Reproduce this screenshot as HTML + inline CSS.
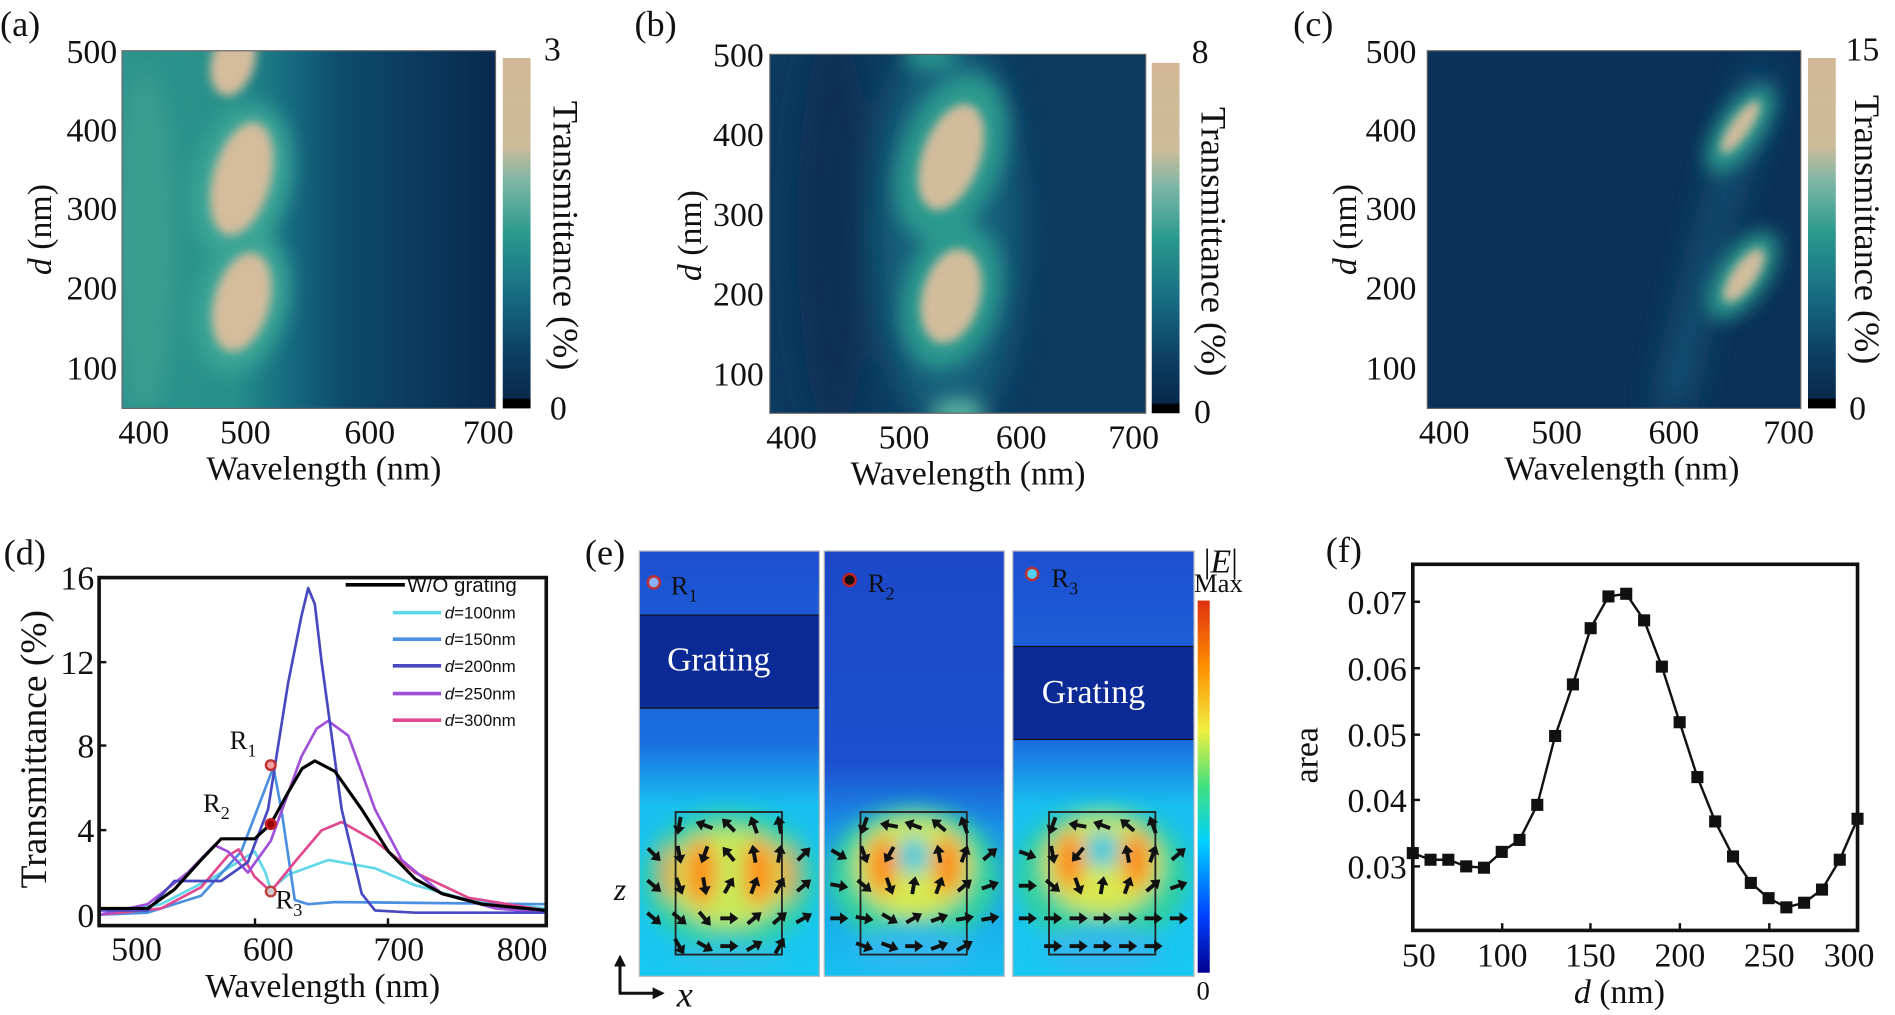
<!DOCTYPE html>
<html><head><meta charset="utf-8">
<style>
html,body{margin:0;padding:0;background:#fff;}
svg{display:block;}
text{font-family:"Liberation Serif",serif;fill:#111;}
text.w{fill:#fff;}
.s{font-family:"Liberation Sans",sans-serif;}
</style></head>
<body>
<svg width="1895" height="1015" viewBox="0 0 1568 840" preserveAspectRatio="none" xmlns="http://www.w3.org/2000/svg" xmlns:xlink="http://www.w3.org/1999/xlink">
<defs>
<filter id="b8" x="-50%" y="-50%" width="200%" height="200%"><feGaussianBlur stdDeviation="8"/></filter>
<filter id="b4" x="-50%" y="-50%" width="200%" height="200%"><feGaussianBlur stdDeviation="4"/></filter>
<filter id="b14" x="-50%" y="-50%" width="200%" height="200%"><feGaussianBlur stdDeviation="14"/></filter>
<linearGradient id="cb" x1="0" y1="0" x2="0" y2="1">
<stop offset="0" stop-color="#d2b896"/><stop offset="0.25" stop-color="#cdbb9a"/><stop offset="0.35" stop-color="#7fb7a6"/><stop offset="0.5" stop-color="#2a9a8e"/><stop offset="0.7" stop-color="#156680"/><stop offset="0.85" stop-color="#0c3d62"/><stop offset="0.97" stop-color="#082a4c"/><stop offset="0.975" stop-color="#000"/><stop offset="1" stop-color="#000"/>
</linearGradient>
<linearGradient id="bga" x1="0" y1="0" x2="1" y2="0">
<stop offset="0" stop-color="#2e948d"/><stop offset="0.3" stop-color="#27908a"/><stop offset="0.45" stop-color="#156a80"/><stop offset="0.6" stop-color="#0d4a6c"/><stop offset="1" stop-color="#08294f"/>
</linearGradient>
<linearGradient id="jet" x1="0" y1="1" x2="0" y2="0">
<stop offset="0" stop-color="#00008f"/><stop offset="0.15" stop-color="#0040ff"/><stop offset="0.35" stop-color="#00d0ff"/><stop offset="0.5" stop-color="#40e080"/><stop offset="0.65" stop-color="#f0f040"/><stop offset="0.82" stop-color="#ff9000"/><stop offset="1" stop-color="#e03010"/>
</linearGradient>
<linearGradient id="ebg" x1="0" y1="0" x2="0" y2="1">
<stop offset="0" stop-color="#1d4fd0"/><stop offset="0.45" stop-color="#1a6ee0"/><stop offset="0.6" stop-color="#18c0f0"/><stop offset="1" stop-color="#18c8f0"/>
</linearGradient>
<linearGradient id="ebg2" x1="0" y1="0" x2="0" y2="1">
<stop offset="0" stop-color="#1c48c8"/><stop offset="0.5" stop-color="#1c50d0"/><stop offset="0.65" stop-color="#1a90e8"/><stop offset="1" stop-color="#18c0f0"/>
</linearGradient>
<clipPath id="ca"><rect x="101" y="42" width="309" height="296"/></clipPath>
<clipPath id="cbp"><rect x="637" y="45" width="311" height="297"/></clipPath>
<clipPath id="cc"><rect x="1181" y="42" width="309" height="296"/></clipPath>
<clipPath id="ce1"><rect x="529" y="456" width="149" height="352"/></clipPath>
<clipPath id="ce2"><rect x="682" y="456" width="149" height="352"/></clipPath>
<clipPath id="ce3"><rect x="838" y="456" width="150" height="352"/></clipPath>
<marker id="ah" markerWidth="4" markerHeight="4" refX="2" refY="2" orient="auto"><path d="M0,0 L4,2 L0,4 z" fill="#111"/></marker>
<g id="ar"><line x1="-7" y1="0" x2="2" y2="0" stroke="#111" stroke-width="3.2"/><path d="M1,-5 L8,0 L1,5 z" fill="#111"/></g>
</defs>

<!-- (a) -->
<g clip-path="url(#ca)">
<rect x="101" y="42" width="309" height="296" fill="url(#bga)"/>
<g filter="url(#b8)">
<ellipse cx="200" cy="150" rx="40" ry="65" fill="#3aa596" transform="rotate(15 200 150)"/>
<ellipse cx="200" cy="250" rx="38" ry="60" fill="#3aa596" transform="rotate(15 200 250)"/>
<ellipse cx="120" cy="200" rx="25" ry="140" fill="#3a9c90"/>
</g>
<g filter="url(#b4)">
<ellipse cx="200" cy="148" rx="24" ry="48" fill="#d4bc9c" transform="rotate(15 200 148)"/>
<ellipse cx="200" cy="250" rx="23" ry="42" fill="#d4bc9c" transform="rotate(15 200 250)"/>
<ellipse cx="193" cy="50" rx="18" ry="30" fill="#d4bc9c" transform="rotate(15 193 50)"/>
</g>
</g>
<rect x="101" y="42" width="309" height="296" fill="none" stroke="#666" stroke-width="1"/>
<rect x="416" y="48" width="23" height="290" fill="url(#cb)"/>
<text x="0" y="30" font-size="30">(a)</text>
<g font-size="28" text-anchor="end">
<text x="97" y="52">500</text><text x="97" y="117">400</text><text x="97" y="182">300</text><text x="97" y="248">200</text><text x="97" y="314">100</text>
</g>
<g font-size="28" text-anchor="middle">
<text x="119" y="367">400</text><text x="203" y="367">500</text><text x="306" y="367">600</text><text x="404" y="367">700</text>
<text x="268" y="397">Wavelength (nm)</text>
</g>
<text x="450" y="50" font-size="28">3</text><text x="455" y="347" font-size="28">0</text>
<text transform="translate(458,195) rotate(90)" font-size="30" text-anchor="middle">Transmittance (%)</text>
<text transform="translate(42,190) rotate(-90)" font-size="28" text-anchor="middle"><tspan font-style="italic">d</tspan> (nm)</text>

<!-- (b) -->
<g clip-path="url(#cbp)">
<rect x="637" y="45" width="311" height="297" fill="#0c3a60"/>
<g filter="url(#b14)">
<ellipse cx="785" cy="190" rx="60" ry="170" fill="#13607c"/>
<ellipse cx="690" cy="190" rx="30" ry="170" fill="#0a2e54"/>
</g>
<g filter="url(#b8)">
<ellipse cx="787" cy="130" rx="42" ry="72" fill="#2a9a8e" transform="rotate(20 787 130)"/>
<ellipse cx="787" cy="245" rx="40" ry="62" fill="#2a9a8e" transform="rotate(15 787 245)"/>
<ellipse cx="770" cy="47" rx="22" ry="10" fill="#2a9a8e"/>
<ellipse cx="793" cy="342" rx="22" ry="12" fill="#5ab4a0"/>
</g>
<g filter="url(#b4)">
<ellipse cx="787" cy="130" rx="24" ry="46" fill="#d2bc9c" transform="rotate(20 787 130)"/>
<ellipse cx="787" cy="245" rx="24" ry="40" fill="#d2bc9c" transform="rotate(15 787 245)"/>
</g>
</g>
<rect x="637" y="45" width="311" height="297" fill="none" stroke="#666" stroke-width="1"/>
<rect x="953" y="52" width="23" height="290" fill="url(#cb)"/>
<text x="525" y="30" font-size="30">(b)</text>
<g font-size="28" text-anchor="end">
<text x="632" y="55">500</text><text x="632" y="121">400</text><text x="632" y="187">300</text><text x="632" y="253">200</text><text x="632" y="319">100</text>
</g>
<g font-size="28" text-anchor="middle">
<text x="655" y="371">400</text><text x="748" y="371">500</text><text x="845" y="371">600</text><text x="938" y="371">700</text>
<text x="801" y="401">Wavelength (nm)</text>
</g>
<text x="986" y="52" font-size="28">8</text><text x="988" y="350" font-size="28">0</text>
<text transform="translate(994,200) rotate(90)" font-size="30" text-anchor="middle">Transmittance (%)</text>
<text transform="translate(580,195) rotate(-90)" font-size="28" text-anchor="middle"><tspan font-style="italic">d</tspan> (nm)</text>

<!-- (c) -->
<g clip-path="url(#cc)">
<rect x="1181" y="42" width="309" height="296" fill="#0a3158"/>
<g filter="url(#b14)">
<path d="M1370,338 L1405,200 L1445,60 L1470,60 L1425,200 L1395,338 z" fill="#13587a"/>
</g>
<g filter="url(#b8)">
<ellipse cx="1440" cy="107" rx="18" ry="42" fill="#2a9a8e" transform="rotate(35 1440 107)"/>
<ellipse cx="1442" cy="228" rx="20" ry="42" fill="#2a9a8e" transform="rotate(35 1442 228)"/>
</g>
<g filter="url(#b4)">
<ellipse cx="1440" cy="105" rx="8" ry="26" fill="#d2bc9c" transform="rotate(35 1440 105)"/>
<ellipse cx="1443" cy="228" rx="10" ry="26" fill="#d2bc9c" transform="rotate(35 1443 228)"/>
</g>
</g>
<rect x="1181" y="42" width="309" height="296" fill="none" stroke="#666" stroke-width="1"/>
<rect x="1496" y="48" width="23" height="290" fill="url(#cb)"/>
<text x="1070" y="30" font-size="30">(c)</text>
<g font-size="28" text-anchor="end">
<text x="1172" y="52">500</text><text x="1172" y="117">400</text><text x="1172" y="182">300</text><text x="1172" y="248">200</text><text x="1172" y="314">100</text>
</g>
<g font-size="28" text-anchor="middle">
<text x="1195" y="367">400</text><text x="1288" y="367">500</text><text x="1385" y="367">600</text><text x="1480" y="367">700</text>
<text x="1342" y="397">Wavelength (nm)</text>
</g>
<text x="1527" y="50" font-size="28">15</text><text x="1530" y="347" font-size="28">0</text>
<text transform="translate(1535,190) rotate(90)" font-size="30" text-anchor="middle">Transmittance (%)</text>
<text transform="translate(1122,190) rotate(-90)" font-size="28" text-anchor="middle"><tspan font-style="italic">d</tspan> (nm)</text>

<!-- (d) -->
<text x="3" y="467" font-size="30">(d)</text>
<g fill="none" stroke-width="2.2" stroke-linejoin="round" stroke-linecap="round">
<polyline stroke="#60d8e8" points="82.3,757 133.2,748.3 177.5,725.6 210.7,704.7 219.6,722.1 224,736.1 238.4,723.9 271.6,711.7 310.3,718.6 343.5,732.6 387.8,744.8 452,751.8"/>
<polyline stroke="#4a90e0" points="82.3,757 122.1,755.3 166.4,741.3 199.6,704.7 216.2,661.1 226.2,634.9 232.8,669.8 243.9,744.8 255,748.3 277.1,746.5 452,748.3"/>
<polyline stroke="#e04890" points="82.3,757 133.2,751.8 166.4,734.3 188.6,708.2 197.4,702.9 210.7,725.6 224,737.8 243.9,713.4 266.1,687.2 282.7,680.3 310.3,696 343.5,722.1 387.8,743 452,753.5"/>
<polyline stroke="#a050d8" points="82.3,757 122.1,748.3 155.4,722.1 177.5,699.4 188.6,704.7 205.2,722.1 224,696 249.4,626.2 262,603 271.6,596.6 288.2,608.8 310.3,669.8 332.5,711.7 365.7,739.6 410,751.8 452,755.3"/>
<polyline stroke="#4848c0" points="82.3,753.5 122.1,753.5 133.2,741.3 144.3,729.1 183,729.1 205.2,713.4 221.8,669.8 238.4,565.2 249.4,510 255,486.7 260.5,500 266.1,547.7 282.7,669.8 299.3,739.6 310.3,753.5 343.5,755.3 452,755.3"/>
<polyline stroke="#000" stroke-width="2.6" points="82.3,751.8 122.1,751.8 144.3,736.1 166.4,711.7 183,694.2 199.6,694.2 210.7,694.2 224,682 238.4,655.8 250,636 260.5,629.7 277.1,638.4 299.3,669.8 321.4,704.7 343.5,727.4 365.7,739.6 398.9,748.3 452,753.5"/>
</g>
<circle cx="224" cy="633.2" r="4" fill="#f0a0a0" stroke="#c03030" stroke-width="2"/>
<circle cx="224" cy="682" r="4" fill="#900" stroke="#c02020" stroke-width="2"/>
<circle cx="224" cy="737.8" r="4" fill="#ccc" stroke="#c04040" stroke-width="2"/>
<rect x="82" y="478" width="370" height="288" fill="none" stroke="#111" stroke-width="3"/>
<g stroke="#111" stroke-width="2">
<line x1="82" y1="548" x2="88" y2="548"/><line x1="82" y1="617" x2="88" y2="617"/><line x1="82" y1="687" x2="88" y2="687"/>
<line x1="211" y1="766" x2="211" y2="760"/><line x1="321" y1="766" x2="321" y2="760"/>
</g>
<g font-size="28" text-anchor="end">
<text x="78" y="488">16</text><text x="78" y="558">12</text><text x="78" y="627">8</text><text x="78" y="697">4</text><text x="78" y="767">0</text>
</g>
<g font-size="28" text-anchor="middle">
<text x="113" y="795">500</text><text x="222" y="795">600</text><text x="330" y="795">700</text><text x="432" y="795">800</text>
<text x="267" y="825">Wavelength (nm)</text>
</g>
<text transform="translate(38,620) rotate(-90)" font-size="31" text-anchor="middle">Transmittance (%)</text>
<line x1="286" y1="484" x2="335" y2="484" stroke="#000" stroke-width="3"/>
<text x="337" y="490" class="s" font-size="17">W/O grating</text>
<line x1="325" y1="507" x2="365" y2="507" stroke="#60d8e8" stroke-width="3"/><text x="368" y="512" class="s" font-size="14"><tspan font-style="italic">d</tspan>=100nm</text>
<line x1="325" y1="529" x2="365" y2="529" stroke="#4a90e0" stroke-width="3"/><text x="368" y="534" class="s" font-size="14"><tspan font-style="italic">d</tspan>=150nm</text>
<line x1="325" y1="551" x2="365" y2="551" stroke="#4848c0" stroke-width="3"/><text x="368" y="556" class="s" font-size="14"><tspan font-style="italic">d</tspan>=200nm</text>
<line x1="325" y1="574" x2="365" y2="574" stroke="#a050d8" stroke-width="3"/><text x="368" y="579" class="s" font-size="14"><tspan font-style="italic">d</tspan>=250nm</text>
<line x1="325" y1="596" x2="365" y2="596" stroke="#e04890" stroke-width="3"/><text x="368" y="601" class="s" font-size="14"><tspan font-style="italic">d</tspan>=300nm</text>
<text x="190" y="620" font-size="22">R<tspan font-size="15" dy="6">1</tspan></text>
<text x="168" y="672" font-size="22">R<tspan font-size="15" dy="6">2</tspan></text>
<text x="228" y="752" font-size="22">R<tspan font-size="15" dy="6">3</tspan></text>

<!-- (e) -->
<text x="484" y="467" font-size="30">(e)</text>
<g clip-path="url(#ce1)">
<rect x="529" y="456" width="149" height="352" fill="url(#ebg)"/>
<rect x="529" y="509" width="149" height="77" fill="#0c2a96"/>
<line x1="529" y1="509" x2="678" y2="509" stroke="#111"/><line x1="529" y1="586" x2="678" y2="586" stroke="#111"/>
<g filter="url(#b8)">
<ellipse cx="603" cy="728" rx="72" ry="58" fill="#30d0a0"/>
<ellipse cx="603" cy="726" rx="50" ry="40" fill="#c8e858"/>
<ellipse cx="580" cy="722" rx="12" ry="28" fill="#ff8a10"/>
<ellipse cx="628" cy="722" rx="12" ry="28" fill="#ff8a10"/>
<ellipse cx="553" cy="722" rx="4" ry="24" fill="#ff6010"/>
<ellipse cx="653" cy="722" rx="4" ry="24" fill="#ff6010"/>
<ellipse cx="603" cy="790" rx="45" ry="10" fill="#30c0e8"/>
</g>
</g>
<g clip-path="url(#ce2)">
<rect x="682" y="456" width="149" height="352" fill="url(#ebg2)"/>
<g filter="url(#b8)">
<ellipse cx="756" cy="725" rx="72" ry="58" fill="#30d0a0"/>
<ellipse cx="756" cy="718" rx="48" ry="40" fill="#d8e850"/>
<ellipse cx="730" cy="716" rx="11" ry="24" fill="#ff8010"/>
<ellipse cx="784" cy="716" rx="11" ry="24" fill="#ff8010"/>
<ellipse cx="756" cy="708" rx="13" ry="16" fill="#30c8e0"/>
<ellipse cx="756" cy="785" rx="50" ry="18" fill="#30b8f0"/>
</g>
</g>
<g clip-path="url(#ce3)">
<rect x="838" y="456" width="150" height="352" fill="url(#ebg)"/>
<rect x="838" y="535" width="150" height="77" fill="#0c2a96"/>
<line x1="838" y1="535" x2="988" y2="535" stroke="#111"/><line x1="838" y1="612" x2="988" y2="612" stroke="#111"/>
<g filter="url(#b8)">
<ellipse cx="912" cy="725" rx="72" ry="58" fill="#30d0a0"/>
<ellipse cx="912" cy="716" rx="48" ry="40" fill="#d8e850"/>
<ellipse cx="885" cy="712" rx="11" ry="24" fill="#ff8010"/>
<ellipse cx="940" cy="712" rx="11" ry="24" fill="#ff8010"/>
<ellipse cx="912" cy="703" rx="14" ry="16" fill="#30c8e0"/>
<ellipse cx="912" cy="785" rx="50" ry="18" fill="#30b8f0"/>
</g>
</g>
<rect x="529" y="456" width="149" height="352" fill="none" stroke="#bbb"/>
<rect x="682" y="456" width="149" height="352" fill="none" stroke="#bbb"/>
<rect x="838" y="456" width="150" height="352" fill="none" stroke="#bbb"/>
<g fill="none" stroke="#222" stroke-width="1.5">
<rect x="559" y="672" width="88" height="118"/>
<rect x="712" y="672" width="88" height="118"/>
<rect x="868" y="672" width="88" height="118"/>
</g>
<use xlink:href="#ar" transform="translate(562,683) rotate(100)"/>
<use xlink:href="#ar" transform="translate(583,683) rotate(200)"/>
<use xlink:href="#ar" transform="translate(603,683) rotate(225)"/>
<use xlink:href="#ar" transform="translate(624,683) rotate(250)"/>
<use xlink:href="#ar" transform="translate(645,683) rotate(260)"/>
<use xlink:href="#ar" transform="translate(541,707) rotate(45)"/>
<use xlink:href="#ar" transform="translate(562,707) rotate(80)"/>
<use xlink:href="#ar" transform="translate(583,707) rotate(110)"/>
<use xlink:href="#ar" transform="translate(603,707) rotate(230)"/>
<use xlink:href="#ar" transform="translate(624,707) rotate(260)"/>
<use xlink:href="#ar" transform="translate(645,707) rotate(280)"/>
<use xlink:href="#ar" transform="translate(665,707) rotate(315)"/>
<use xlink:href="#ar" transform="translate(541,733) rotate(40)"/>
<use xlink:href="#ar" transform="translate(562,733) rotate(70)"/>
<use xlink:href="#ar" transform="translate(583,733) rotate(80)"/>
<use xlink:href="#ar" transform="translate(603,733) rotate(300)"/>
<use xlink:href="#ar" transform="translate(624,733) rotate(290)"/>
<use xlink:href="#ar" transform="translate(645,733) rotate(300)"/>
<use xlink:href="#ar" transform="translate(665,733) rotate(320)"/>
<use xlink:href="#ar" transform="translate(541,760) rotate(40)"/>
<use xlink:href="#ar" transform="translate(562,760) rotate(40)"/>
<use xlink:href="#ar" transform="translate(583,760) rotate(50)"/>
<use xlink:href="#ar" transform="translate(603,760) rotate(0)"/>
<use xlink:href="#ar" transform="translate(624,760) rotate(320)"/>
<use xlink:href="#ar" transform="translate(645,760) rotate(320)"/>
<use xlink:href="#ar" transform="translate(665,760) rotate(330)"/>
<use xlink:href="#ar" transform="translate(562,783) rotate(60)"/>
<use xlink:href="#ar" transform="translate(583,783) rotate(30)"/>
<use xlink:href="#ar" transform="translate(603,783) rotate(0)"/>
<use xlink:href="#ar" transform="translate(624,783) rotate(330)"/>
<use xlink:href="#ar" transform="translate(645,783) rotate(300)"/>
<use xlink:href="#ar" transform="translate(715,683) rotate(110)"/>
<use xlink:href="#ar" transform="translate(736,683) rotate(190)"/>
<use xlink:href="#ar" transform="translate(756,683) rotate(200)"/>
<use xlink:href="#ar" transform="translate(777,683) rotate(220)"/>
<use xlink:href="#ar" transform="translate(798,683) rotate(250)"/>
<use xlink:href="#ar" transform="translate(694,707) rotate(30)"/>
<use xlink:href="#ar" transform="translate(715,707) rotate(70)"/>
<use xlink:href="#ar" transform="translate(736,707) rotate(120)"/>
<use xlink:href="#ar" transform="translate(777,707) rotate(260)"/>
<use xlink:href="#ar" transform="translate(798,707) rotate(290)"/>
<use xlink:href="#ar" transform="translate(819,707) rotate(320)"/>
<use xlink:href="#ar" transform="translate(694,733) rotate(10)"/>
<use xlink:href="#ar" transform="translate(715,733) rotate(40)"/>
<use xlink:href="#ar" transform="translate(736,733) rotate(70)"/>
<use xlink:href="#ar" transform="translate(756,733) rotate(280)"/>
<use xlink:href="#ar" transform="translate(777,733) rotate(290)"/>
<use xlink:href="#ar" transform="translate(798,733) rotate(320)"/>
<use xlink:href="#ar" transform="translate(819,733) rotate(340)"/>
<use xlink:href="#ar" transform="translate(694,760) rotate(0)"/>
<use xlink:href="#ar" transform="translate(715,760) rotate(10)"/>
<use xlink:href="#ar" transform="translate(736,760) rotate(30)"/>
<use xlink:href="#ar" transform="translate(756,760) rotate(330)"/>
<use xlink:href="#ar" transform="translate(777,760) rotate(340)"/>
<use xlink:href="#ar" transform="translate(798,760) rotate(350)"/>
<use xlink:href="#ar" transform="translate(819,760) rotate(350)"/>
<use xlink:href="#ar" transform="translate(715,783) rotate(20)"/>
<use xlink:href="#ar" transform="translate(736,783) rotate(20)"/>
<use xlink:href="#ar" transform="translate(756,783) rotate(0)"/>
<use xlink:href="#ar" transform="translate(777,783) rotate(340)"/>
<use xlink:href="#ar" transform="translate(798,783) rotate(330)"/>
<use xlink:href="#ar" transform="translate(871,683) rotate(110)"/>
<use xlink:href="#ar" transform="translate(892,683) rotate(190)"/>
<use xlink:href="#ar" transform="translate(912,683) rotate(200)"/>
<use xlink:href="#ar" transform="translate(933,683) rotate(220)"/>
<use xlink:href="#ar" transform="translate(954,683) rotate(250)"/>
<use xlink:href="#ar" transform="translate(850,707) rotate(20)"/>
<use xlink:href="#ar" transform="translate(871,707) rotate(80)"/>
<use xlink:href="#ar" transform="translate(892,707) rotate(130)"/>
<use xlink:href="#ar" transform="translate(933,707) rotate(260)"/>
<use xlink:href="#ar" transform="translate(954,707) rotate(290)"/>
<use xlink:href="#ar" transform="translate(975,707) rotate(320)"/>
<use xlink:href="#ar" transform="translate(850,733) rotate(0)"/>
<use xlink:href="#ar" transform="translate(871,733) rotate(40)"/>
<use xlink:href="#ar" transform="translate(892,733) rotate(70)"/>
<use xlink:href="#ar" transform="translate(912,733) rotate(280)"/>
<use xlink:href="#ar" transform="translate(933,733) rotate(290)"/>
<use xlink:href="#ar" transform="translate(954,733) rotate(320)"/>
<use xlink:href="#ar" transform="translate(975,733) rotate(340)"/>
<use xlink:href="#ar" transform="translate(850,760) rotate(0)"/>
<use xlink:href="#ar" transform="translate(871,760) rotate(0)"/>
<use xlink:href="#ar" transform="translate(892,760) rotate(0)"/>
<use xlink:href="#ar" transform="translate(912,760) rotate(0)"/>
<use xlink:href="#ar" transform="translate(933,760) rotate(0)"/>
<use xlink:href="#ar" transform="translate(954,760) rotate(0)"/>
<use xlink:href="#ar" transform="translate(975,760) rotate(0)"/>
<use xlink:href="#ar" transform="translate(871,783) rotate(0)"/>
<use xlink:href="#ar" transform="translate(892,783) rotate(0)"/>
<use xlink:href="#ar" transform="translate(912,783) rotate(0)"/>
<use xlink:href="#ar" transform="translate(933,783) rotate(0)"/>
<use xlink:href="#ar" transform="translate(954,783) rotate(0)"/>
<text x="552" y="555" font-size="28" class="w" style="fill:#fff">Grating</text>
<text x="862" y="582" font-size="28" class="w" style="fill:#fff">Grating</text>
<circle cx="541" cy="482" r="5" fill="#8ab0ff" stroke="#c03030" stroke-width="2"/>
<circle cx="703" cy="480" r="5" fill="#111" stroke="#c02020" stroke-width="2"/>
<circle cx="854" cy="475" r="5" fill="#50d0ff" stroke="#c03030" stroke-width="2"/>
<text x="555" y="492" font-size="22">R<tspan font-size="15" dy="6">1</tspan></text>
<text x="718" y="490" font-size="22">R<tspan font-size="15" dy="6">2</tspan></text>
<text x="870" y="486" font-size="22">R<tspan font-size="15" dy="6">3</tspan></text>
<rect x="991" y="497" width="10" height="308" fill="url(#jet)"/>
<text x="996" y="474" font-size="28">|<tspan font-style="italic">E</tspan>|</text>
<text x="988" y="490" font-size="22">Max</text>
<text x="990" y="827" font-size="22">0</text>
<text x="508" y="745" font-size="26" font-style="italic">z</text>
<path d="M513,822 L513,795" stroke="#111" stroke-width="2.5" marker-end="url(#ah)"/>
<path d="M512,822 L545,822" stroke="#111" stroke-width="2.5" marker-end="url(#ah)"/>
<text x="560" y="833" font-size="30" font-style="italic">x</text>

<!-- (f) -->
<text x="1097" y="465" font-size="30">(f)</text>
<polyline fill="none" stroke="#111" stroke-width="2" stroke-linejoin="round" points="1169,706 1183.7,711.5 1198.4,711.5 1213.2,717 1227.9,718.1 1242.6,705 1257.3,695.1 1272,666.1 1286.8,609.1 1301.5,566.4 1316.2,519.9 1330.9,493.6 1345.6,491.4 1360.4,513.4 1375.1,551.7 1389.8,597.7 1404.5,643.1 1419.2,679.8 1434,708.8 1448.7,730.7 1463.4,743.3 1478.1,750.9 1492.8,747.1 1507.6,736.2 1522.3,711.5 1537,677.6"/>
<g fill="#111">
<rect x="1164" y="701" width="10" height="10"/><rect x="1178.7" y="706.5" width="10" height="10"/><rect x="1193.4" y="706.5" width="10" height="10"/><rect x="1208.2" y="712" width="10" height="10"/><rect x="1222.9" y="713.1" width="10" height="10"/><rect x="1237.6" y="700" width="10" height="10"/><rect x="1252.3" y="690.1" width="10" height="10"/><rect x="1267" y="661.1" width="10" height="10"/><rect x="1281.8" y="604.1" width="10" height="10"/><rect x="1296.5" y="561.4" width="10" height="10"/><rect x="1311.2" y="514.9" width="10" height="10"/><rect x="1325.9" y="488.6" width="10" height="10"/><rect x="1340.6" y="486.4" width="10" height="10"/><rect x="1355.4" y="508.4" width="10" height="10"/><rect x="1370.1" y="546.7" width="10" height="10"/><rect x="1384.8" y="592.7" width="10" height="10"/><rect x="1399.5" y="638.1" width="10" height="10"/><rect x="1414.2" y="674.8" width="10" height="10"/><rect x="1429" y="703.8" width="10" height="10"/><rect x="1443.7" y="725.7" width="10" height="10"/><rect x="1458.4" y="738.3" width="10" height="10"/><rect x="1473.1" y="745.9" width="10" height="10"/><rect x="1487.8" y="742.1" width="10" height="10"/><rect x="1502.6" y="731.2" width="10" height="10"/><rect x="1517.3" y="706.5" width="10" height="10"/><rect x="1532" y="672.6" width="10" height="10"/>
</g>
<rect x="1169" y="467" width="368" height="303" fill="none" stroke="#111" stroke-width="3"/>
<g stroke="#111" stroke-width="2">
<line x1="1169" y1="498" x2="1175" y2="498"/><line x1="1169" y1="553" x2="1175" y2="553"/><line x1="1169" y1="608" x2="1175" y2="608"/><line x1="1169" y1="662" x2="1175" y2="662"/><line x1="1169" y1="717" x2="1175" y2="717"/>
<line x1="1243" y1="770" x2="1243" y2="764"/><line x1="1316" y1="770" x2="1316" y2="764"/><line x1="1390" y1="770" x2="1390" y2="764"/><line x1="1464" y1="770" x2="1464" y2="764"/>
</g>
<g font-size="28" text-anchor="end">
<text x="1164" y="508">0.07</text><text x="1164" y="563">0.06</text><text x="1164" y="618">0.05</text><text x="1164" y="672">0.04</text><text x="1164" y="727">0.03</text>
</g>
<g font-size="28" text-anchor="middle">
<text x="1174" y="800">50</text><text x="1243" y="800">100</text><text x="1316" y="800">150</text><text x="1390" y="800">200</text><text x="1464" y="800">250</text><text x="1530" y="800">300</text>
<text x="1340" y="830"><tspan font-style="italic">d</tspan> (nm)</text>
</g>
<text transform="translate(1090,625) rotate(-90)" font-size="28" text-anchor="middle">area</text>
</svg>
</body></html>
